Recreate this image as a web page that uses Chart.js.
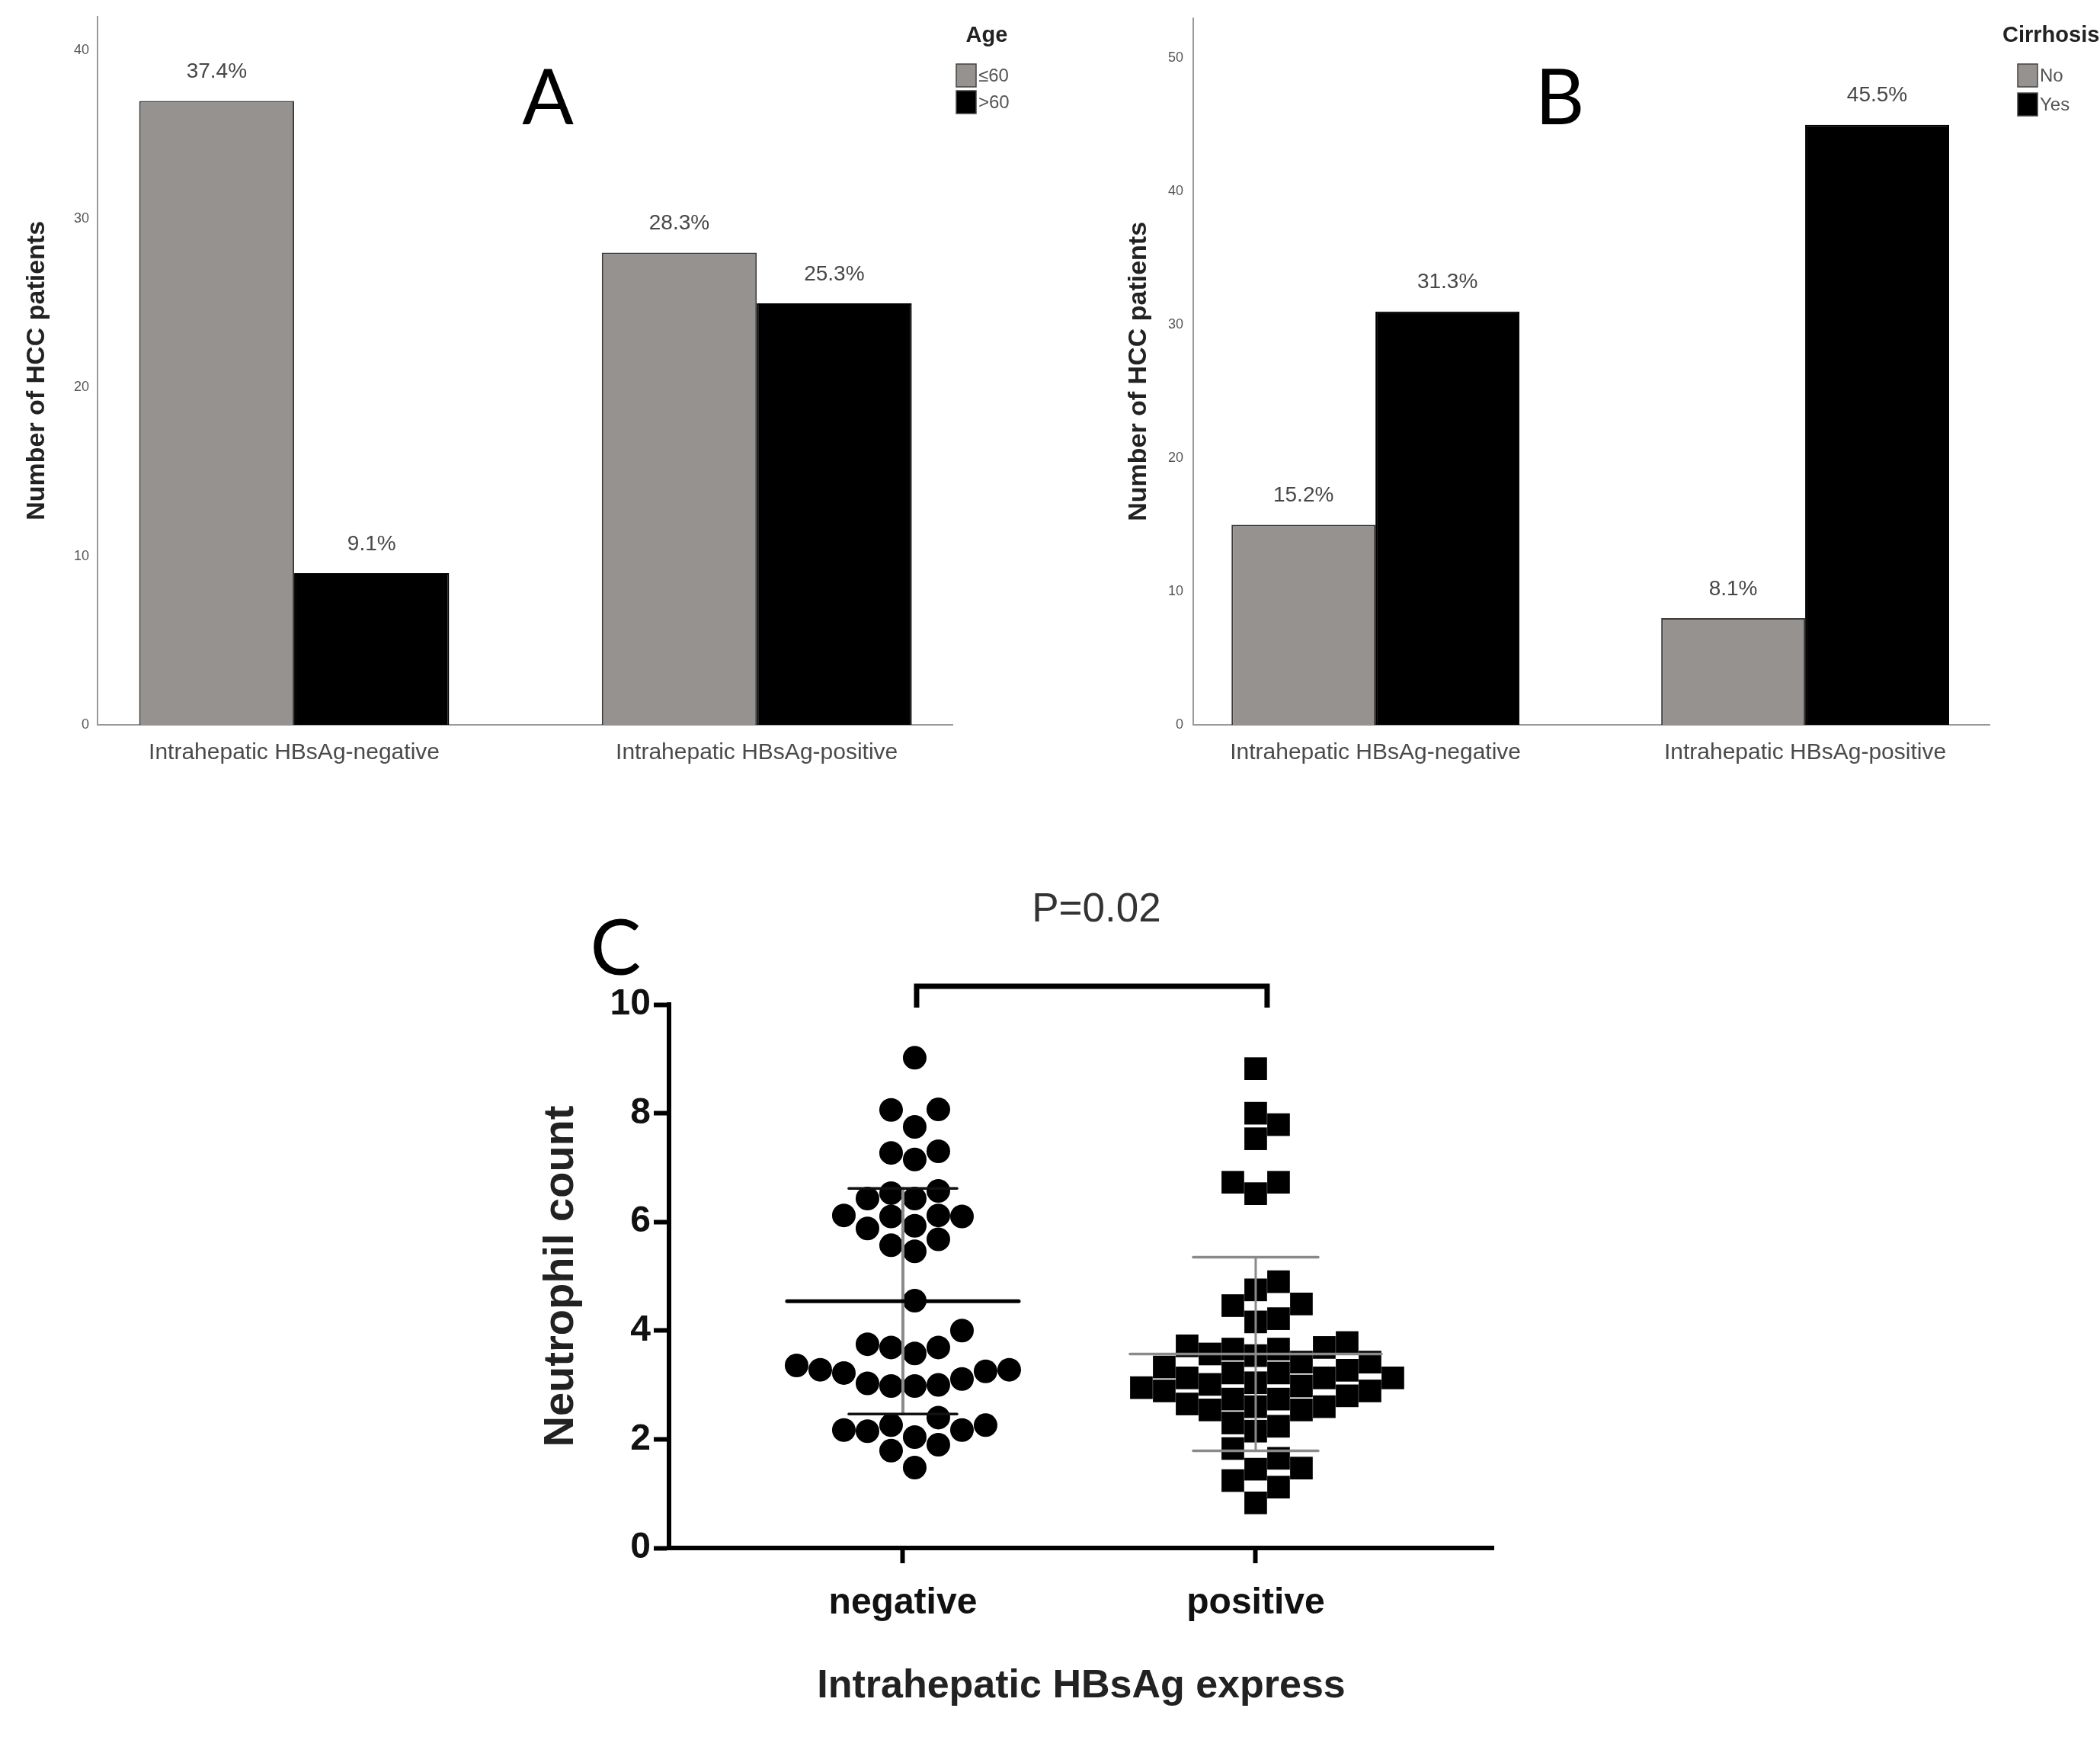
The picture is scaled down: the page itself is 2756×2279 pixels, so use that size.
<!DOCTYPE html>
<html>
<head>
<meta charset="utf-8">
<title>HBsAg figure</title>
<script src="https://cdn.jsdelivr.net/npm/chart.js@4.4.1/dist/chart.umd.min.js"></script>
<style>
  html, body { margin: 0; padding: 0; background: #fff; }
  #wrap { position: relative; width: 2756px; height: 2279px; overflow: hidden; background: #fff; }
  canvas { position: absolute; }
</style>
</head>
<body>
<div id="wrap">
  <canvas id="chartA" width="1400" height="1060" style="left:0;top:0"></canvas>
  <canvas id="chartB" width="1356" height="1060" style="left:1400px;top:0"></canvas>
  <canvas id="chartC" width="1600" height="1230" style="left:500px;top:1049px"></canvas>
</div>
<script>
// ---- data ----
const groupLabels = ['Intrahepatic HBsAg-negative', 'Intrahepatic HBsAg-positive'];

const ageLabels = ['\u226460', '>60'];
const ageUpTo60 = [37, 28];
const ageOver60 = [9, 25];
const ageTicks = [0, 10, 20, 30, 40];

const cirrhosisLabels = ['No', 'Yes'];
const cirrhosisNo = [15, 8];
const cirrhosisYes = [31, 45];
const cirrhosisTicks = [0, 10, 20, 30, 40, 50];

const swarmLabels = ['negative', 'positive'];
const neutroNegative = [
  9.02, 8.06, 8.07, 7.75, 7.15, 7.3, 7.27, 6.43, 6.57, 6.43, 6.53, 6.12, 6.12, 6.1, 6.1,
  5.93, 5.88, 5.68, 5.57, 5.46, 4.55, 4.0, 3.75, 3.58, 3.69, 3.69, 3.28, 3.25, 3.36, 3.28,
  3.22, 3.11, 3.03, 2.98, 3.0, 2.98, 2.4, 2.17, 2.26, 2.26, 2.15, 2.04, 2.17, 1.9, 1.79, 1.48
];
const neutroPositive = [
  8.82, 8.0, 7.79, 7.53, 6.73, 6.73, 6.52,
  4.9, 4.49, 4.75, 4.46, 4.16,
  4.22, 3.78, 3.27, 2.74,
  3.72, 3.22, 2.74, 2.3, 1.83, 1.45, 0.83,
  3.66, 3.13, 2.65, 2.24, 1.65, 1.24,
  3.66, 3.04, 2.6, 2.15, 1.47, 1.12,
  3.42, 2.98, 2.54,
  3.57, 3.01, 2.54,
  3.42, 2.89,
  3.13, 3.54,
  3.13, 2.6,
  3.69, 3.22, 2.8,
  3.33, 2.89,
  2.95
];
const neutroTicks = [0, 2, 4, 6, 8, 10];
const pValueText = 'P=0.02';

// ---- styles ----
const SANS = '"Liberation Sans", Arial, sans-serif';
const GRAY_BAR = '#96928f';

// ---- plugins ----
const pctLabels = {
  id: 'pctLabels',
  afterDatasetsDraw(chart) {
    const ctx = chart.ctx;
    const total = chart.data.datasets.reduce((s, d) => s + d.data.reduce((a, p) => a + p.y, 0), 0);
    ctx.save();
    ctx.font = '28px ' + SANS;
    ctx.fillStyle = '#474747';
    ctx.textAlign = 'center';
    ctx.textBaseline = 'middle';
    chart.data.datasets.forEach((ds, i) => {
      chart.getDatasetMeta(i).data.forEach((bar, j) => {
        const pct = (ds.data[j].y / total * 100).toFixed(1) + '%';
        ctx.fillText(pct, bar.x, bar.y - 38);
      });
    });
    ctx.restore();
  }
};

const sideLegend = {
  id: 'sideLegend',
  afterDraw(chart, args, opts) {
    const ctx = chart.ctx;
    ctx.save();
    ctx.font = 'bold 29px ' + SANS;
    ctx.fillStyle = '#222';
    ctx.textAlign = opts.titleAlign;
    ctx.textBaseline = 'middle';
    ctx.fillText(opts.title, opts.titleX, 47);
    ctx.font = '24px ' + SANS;
    ctx.textAlign = 'left';
    chart.data.datasets.forEach((ds, i) => {
      const cy = opts.rows[i];
      ctx.fillStyle = ds.backgroundColor;
      ctx.strokeStyle = '#444';
      ctx.lineWidth = 1.5;
      ctx.fillRect(opts.boxX - 13, cy - 15, 26, 30);
      ctx.strokeRect(opts.boxX - 13, cy - 15, 26, 30);
      ctx.fillStyle = '#555';
      ctx.fillText(ds.label, opts.boxX + 16, cy + 1);
    });
    ctx.restore();
  }
};

const panelLetter = {
  id: 'panelLetter',
  afterDraw(chart, args, opts) {
    const ctx = chart.ctx;
    ctx.save();
    ctx.font = '100px Lato, "Liberation Sans", sans-serif';
    ctx.fillStyle = '#000';
    ctx.textAlign = 'center';
    ctx.textBaseline = 'middle';
    ctx.fillText(opts.text, opts.x, opts.y);
    ctx.restore();
  }
};

function mean(a) { return a.reduce((s, v) => s + v, 0) / a.length; }
function sd(a) {
  const m = mean(a);
  return Math.sqrt(a.reduce((s, v) => s + (v - m) * (v - m), 0) / (a.length - 1));
}

const errorBars = {
  id: 'errorBars',
  afterDatasetsDraw(chart, args, opts) {
    const { ctx, scales: { x, y } } = chart;
    const seg = (x1, y1, x2, y2) => { ctx.beginPath(); ctx.moveTo(x1, y1); ctx.lineTo(x2, y2); ctx.stroke(); };
    chart.data.datasets.forEach((ds, i) => {
      const vals = ds.data.map(p => p.y);
      const m = mean(vals), s = sd(vals);
      const st = opts.styles[i];
      const cx = x.getPixelForValue(i);
      const yHi = y.getPixelForValue(m + s), yLo = y.getPixelForValue(m - s), yM = y.getPixelForValue(m);
      ctx.save();
      ctx.lineCap = 'round';
      ctx.strokeStyle = st.stem; ctx.lineWidth = st.stemWidth;
      seg(cx, yLo, cx, yHi);
      ctx.strokeStyle = st.cap; ctx.lineWidth = st.capWidth;
      seg(cx - st.capHalf, yHi, cx + st.capHalf, yHi);
      seg(cx - st.capHalf, yLo, cx + st.capHalf, yLo);
      ctx.strokeStyle = st.mean; ctx.lineWidth = st.meanWidth;
      seg(cx - st.meanHalf, yM, cx + st.meanHalf, yM);
      ctx.restore();
    });
  }
};

const sigBracket = {
  id: 'sigBracket',
  afterDraw(chart, args, opts) {
    const { ctx, chartArea, scales: { x } } = chart;
    const x1 = x.getPixelForValue(0) + 18, x2 = x.getPixelForValue(1) + 15;
    const yTop = chartArea.top - 24, yEnd = chartArea.top + 4;
    ctx.save();
    ctx.strokeStyle = '#000';
    ctx.lineWidth = 7;
    ctx.lineJoin = 'miter';
    ctx.beginPath();
    ctx.moveTo(x1, yEnd); ctx.lineTo(x1, yTop); ctx.lineTo(x2, yTop); ctx.lineTo(x2, yEnd);
    ctx.stroke();
    ctx.font = '53px ' + SANS;
    ctx.fillStyle = '#333';
    ctx.textAlign = 'center';
    ctx.textBaseline = 'middle';
    ctx.fillText(opts.text, (x1 + x2) / 2 + 6, chartArea.top - 124);
    ctx.restore();
  }
};

// ---- bar panels A and B ----
function barPanel(id, labels, first, second, yMax, yTicks, opt) {
  return new Chart(document.getElementById(id), {
    type: 'bar',
    data: {
      datasets: [
        { label: labels[0], data: first.map((v, i) => ({ x: i, y: v })),
          backgroundColor: GRAY_BAR, borderColor: '#3c3c3c', borderWidth: 2 },
        { label: labels[1], data: second.map((v, i) => ({ x: i, y: v })),
          backgroundColor: '#000', borderColor: '#000', borderWidth: 2 }
      ]
    },
    options: {
      responsive: false,
      animation: false,
      devicePixelRatio: 1,
      layout: { padding: { left: 0, top: 10, right: opt.padRight, bottom: 0 } },
      datasets: { bar: { categoryPercentage: 0.67, barPercentage: 1 } },
      scales: {
        x: {
          type: 'linear', min: opt.xMin, max: opt.xMax, offset: false,
          afterBuildTicks: s => { s.ticks = groupLabels.map((_, i) => ({ value: i })); },
          afterFit: s => { s.height = 109; },
          grid: { display: false, drawTicks: false },
          border: { display: true, color: '#9a9a9a', width: 2 },
          ticks: { callback: v => groupLabels[v], font: { family: SANS, size: 30 }, color: '#4a4a4a',
                   padding: 19, maxRotation: 0, autoSkip: false }
        },
        y: {
          min: 0, max: yMax,
          afterBuildTicks: s => { s.ticks = yTicks.map(v => ({ value: v })); },
          afterFit: s => { s.width = opt.yWidth; },
          grid: { display: false, drawTicks: false },
          border: { display: true, color: '#9a9a9a', width: 2 },
          ticks: { font: { family: SANS, size: 18 }, color: '#555', padding: opt.tickPad },
          title: { display: true, text: 'Number of HCC patients', color: '#222',
                   font: { family: SANS, size: 34, weight: 'bold' }, padding: { top: opt.titlePad, bottom: 0 } }
        }
      },
      plugins: {
        legend: { display: false },
        tooltip: { enabled: false },
        sideLegend: opt.legend,
        panelLetter: opt.letter
      }
    },
    plugins: [pctLabels, sideLegend, panelLetter]
  });
}

barPanel('chartA', ageLabels, ageUpTo60, ageOver60, 42, ageTicks, {
  padRight: 150, xMin: -0.425, xMax: 1.423, yWidth: 128, tickPad: 11, titlePad: 28.6,
  legend: { title: 'Age', titleX: 1295, titleAlign: 'center', boxX: 1268, rows: [99, 134] },
  letter: { text: 'A', x: 719, y: 131 }
});

barPanel('chartB', cirrhosisLabels, cirrhosisNo, cirrhosisYes, 53, cirrhosisTicks, {
  padRight: 145, xMin: -0.424, xMax: 1.429, yWidth: 166, tickPad: 13, titlePad: 74.6,
  legend: { title: 'Cirrhosis', titleX: 1228, titleAlign: 'left', boxX: 1261, rows: [99, 137] },
  letter: { text: 'B', x: 647, y: 131 }
});

// ---- scatter panel C ----
function swarmOffsets(values, pxY, step, shift, square) {
  const cands = [];
  for (let k = 0; k < 40; k++) {
    const a = (k + shift) * step;
    cands.push(a);
    if (a !== 0) cands.push(-a);
  }
  const order = values.map((v, i) => i).sort((a, b) => values[a] - values[b]);
  const placed = [];
  const out = new Array(values.length);
  order.forEach(i => {
    const py = values[i] * pxY;
    const cx = cands.find(c => placed.every(p => square
      ? (Math.abs(p.x - c) >= step - 0.5 || Math.abs(p.y - py) >= step - 0.5)
      : Math.hypot(p.x - c, p.y - py) >= step - 0.5));
    placed.push({ x: cx, y: py });
    out[i] = cx;
  });
  return out;
}

const boldTick = { family: SANS, size: 48, weight: 'bold' };
const axisGrid = { display: true, drawOnChartArea: false, drawTicks: true, tickLength: 20, tickWidth: 6, tickColor: '#000' };

const chartC = new Chart(document.getElementById('chartC'), {
  type: 'scatter',
  data: {
    datasets: [
      { label: swarmLabels[0], data: neutroNegative.map(v => ({ x: 0, y: v })),
        pointStyle: 'circle', pointRadius: 15.5, pointHoverRadius: 15.5, backgroundColor: '#000', borderWidth: 0 },
      { label: swarmLabels[1], data: neutroPositive.map(v => ({ x: 1, y: v })),
        pointStyle: 'rect', pointRadius: 21, pointHoverRadius: 21, backgroundColor: '#000', borderWidth: 0 }
    ]
  },
  options: {
    responsive: false,
    animation: false,
    devicePixelRatio: 1,
    layout: { padding: { left: 0, top: 269, right: 140, bottom: 0 } },
    scales: {
      x: {
        type: 'linear', min: -0.663, max: 1.674,
        afterBuildTicks: s => { s.ticks = swarmLabels.map((_, i) => ({ value: i })); },
        afterFit: s => { s.height = 248; },
        grid: axisGrid,
        border: { display: true, color: '#000', width: 6 },
        ticks: { callback: v => swarmLabels[v], font: boldTick, color: '#111', padding: 24, maxRotation: 0 },
        title: { display: true, text: 'Intrahepatic HBsAg express', color: '#222',
                 font: { family: SANS, size: 52, weight: 'bold' }, padding: { top: 0, bottom: 35 } }
      },
      y: {
        min: 0, max: 10,
        afterBuildTicks: s => { s.ticks = neutroTicks.map(v => ({ value: v })); },
        afterFit: s => { s.width = 378; },
        grid: axisGrid,
        border: { display: true, color: '#000', width: 6 },
        ticks: { font: boldTick, color: '#111', padding: 4 },
        title: { display: true, text: 'Neutrophil count', color: '#222',
                 font: { family: SANS, size: 56, weight: 'bold' }, padding: { top: 203, bottom: 0 } }
      }
    },
    plugins: {
      legend: { display: false },
      tooltip: { enabled: false },
      errorBars: {
        styles: [
          { stem: '#8a8a8a', stemWidth: 4, cap: '#111', capWidth: 3.5, capHalf: 71, mean: '#000', meanWidth: 5, meanHalf: 152 },
          { stem: '#8a8a8a', stemWidth: 3, cap: '#8a8a8a', capWidth: 3.5, capHalf: 82, mean: '#8a8a8a', meanWidth: 3.5, meanHalf: 165 }
        ]
      },
      sigBracket: { text: pValueText },
      panelLetter: { text: 'C', x: 308, y: 198 }
    }
  },
  plugins: [errorBars, sigBracket, panelLetter]
});

// lay the points out as a bee swarm, using the scales' pixel ratios
(function () {
  const xs = chartC.scales.x, ys = chartC.scales.y;
  const pxX = xs.getPixelForValue(1) - xs.getPixelForValue(0);
  const pxY = ys.getPixelForValue(0) - ys.getPixelForValue(1);
  const negOff = swarmOffsets(neutroNegative, pxY, 31, 0.5, false);
  const posOff = swarmOffsets(neutroPositive, pxY, 30, 0, true);
  chartC.data.datasets[0].data = neutroNegative.map((v, i) => ({ x: 0 + negOff[i] / pxX, y: v }));
  chartC.data.datasets[1].data = neutroPositive.map((v, i) => ({ x: 1 + posOff[i] / pxX, y: v }));
  chartC.update('none');
})();
</script>
</body>
</html>
